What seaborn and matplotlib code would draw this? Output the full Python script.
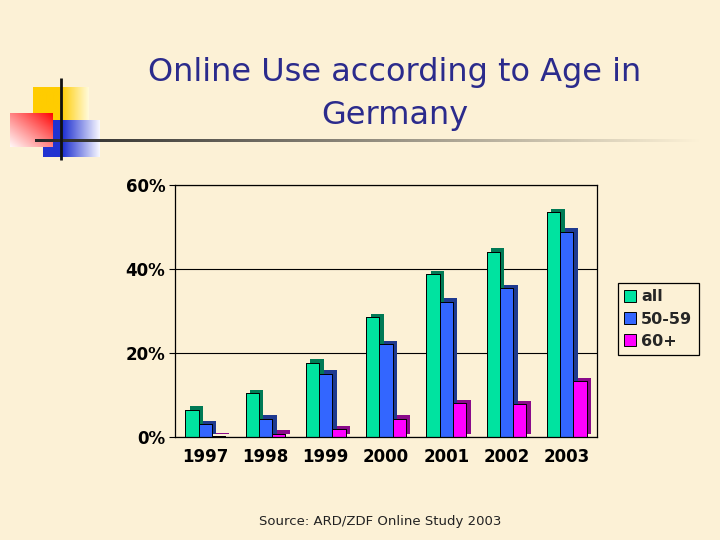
import numpy as np
import pandas as pd
import matplotlib
matplotlib.use("Agg")
import matplotlib.pyplot as plt
import matplotlib.patheffects as pe
from matplotlib.patches import Patch
from matplotlib.ticker import FuncFormatter
import seaborn as sns

# ---- data ----
years = ["1997", "1998", "1999", "2000", "2001", "2002", "2003"]
groups = ["all", "50-59", "60+"]
share_all = [6.5, 10.4, 17.7, 28.6, 38.8, 44.1, 53.5]
share_5059 = [3.0, 4.4, 15.1, 22.1, 32.2, 35.4, 48.9]
share_60 = [0.2, 0.8, 1.9, 4.4, 8.1, 7.8, 13.3]
y_ticks = [0, 20, 40, 60]

title_line1 = "Online Use according to Age in"
title_line2 = "Germany"
source_text = "Source: ARD/ZDF Online Study 2003"

front = {"all": "#00E3A0", "50-59": "#3366FF", "60+": "#FF00FF"}
side = {"all": "#007A55", "50-59": "#1F3A8F", "60+": "#8A0A8A"}
BG = "#FCF1D6"

df = pd.DataFrame({
    "year": years * 3,
    "group": [g for g in groups for _ in years],
    "value": [v / 100 for v in share_all + share_5059 + share_60],
})

sns.set_theme(style="white")
plt.rcParams["font.family"] = ["DejaVu Sans"]

fig = plt.figure(figsize=(7.2, 5.4), dpi=100)
fig.patch.set_facecolor(BG)

# ---- decoration (slide template) ----
deco = fig.add_axes([0, 0, 1, 1], zorder=-1)
deco.set_xlim(0, 720)
deco.set_ylim(540, 0)
deco.axis("off")
deco.patch.set_alpha(0)

def hgrad(c0, c1, start, n=64):
    t = np.linspace(0, 1, n)
    w = np.clip((t - start) / (1 - start), 0, 1)[None, :, None]
    c0 = np.array(c0)[None, None, :]
    c1 = np.array(c1)[None, None, :]
    return c0 * (1 - w) + c1 * w

yellow = hgrad((1.0, 0.80, 0.0), (1.0, 0.98, 0.85), 0.5)
deco.imshow(yellow, extent=(33, 89, 140, 87), aspect="auto", interpolation="bilinear", zorder=1)
blue = hgrad((0.13, 0.2, 0.82), (0.97, 0.97, 1.0), 0.35)
deco.imshow(blue, extent=(43, 100, 157, 120), aspect="auto", interpolation="bilinear", zorder=2)
xx, yy = np.meshgrid(np.linspace(0, 1, 64), np.linspace(0, 1, 64))
tw = np.clip(((1 - xx) + yy) / 2, 0, 1) ** 0.9
red = np.dstack([np.ones_like(tw), tw * 0.97, tw * 0.97])
deco.imshow(red, extent=(10, 53, 147, 113), origin="upper", aspect="auto", interpolation="bilinear", zorder=3)
bgc = np.array(matplotlib.colors.to_rgb(BG))
line = hgrad((0.15, 0.15, 0.15), tuple(bgc), 0.0, n=256)
deco.imshow(line, extent=(35, 700, 142.5, 139.5), aspect="auto", interpolation="bilinear", zorder=4)
deco.plot([61, 61], [78, 160], color="#111111", lw=2.0, zorder=5, solid_capstyle="butt")

# ---- titles ----
fig.text(395 / 720, 1 - 73 / 540, title_line1, ha="center", va="center",
         fontsize=23, color="#2B2B8C")
fig.text(395 / 720, 1 - 115 / 540, title_line2, ha="center", va="center",
         fontsize=23, color="#2B2B8C")
fig.text(380 / 720, 1 - 522 / 540, source_text, ha="center", va="center",
         fontsize=9.5, color="#222222")

# ---- chart ----
ax = fig.add_axes([175 / 720, 1 - 437 / 540, (597 - 175) / 720, (437 - 185) / 540])
ax.set_facecolor("none")
sns.barplot(data=df, x="year", y="value", hue="group", hue_order=groups,
            palette=front, width=0.66, edgecolor="black", linewidth=0.7,
            saturation=1, ax=ax, legend=False, errorbar=None)

rgb_to_group = {matplotlib.colors.to_hex(matplotlib.colors.to_rgb(c)): g for g, c in front.items()}
for p in ax.patches:
    g = rgb_to_group.get(matplotlib.colors.to_hex(p.get_facecolor()[:3]))
    if g is None:
        continue
    p.set_path_effects([
        pe.SimplePatchShadow(offset=(3.2, 2.4), shadow_rgbFace=side[g], alpha=1.0),
        pe.Stroke(linewidth=0.7, foreground="black"),
        pe.Normal(),
    ])

ax.set_ylim(0, 0.6)
ax.set_xlim(-0.5, len(years) - 0.5)
ax.set_yticks([v / 100 for v in y_ticks])
ax.yaxis.set_major_formatter(FuncFormatter(lambda v, _: f"{v * 100:.0f}%"))
ax.yaxis.grid(True, color="black", lw=0.8)
ax.set_axisbelow(True)
ax.set_xlabel("")
ax.set_ylabel("")
for s in ax.spines.values():
    s.set_visible(True)
    s.set_color("black")
    s.set_linewidth(0.9)
ax.tick_params(axis="y", which="major", left=True, length=4, width=0.8, color="black",
               pad=3, labelsize=12, labelcolor="black")
ax.tick_params(axis="x", length=0, pad=8, labelsize=12, labelcolor="black")
for lab in ax.get_xticklabels() + ax.get_yticklabels():
    lab.set_fontweight("bold")

handles = [Patch(facecolor=front[g], edgecolor="black", linewidth=0.7) for g in groups]
leg = ax.legend(handles, groups, loc="upper left",
                bbox_to_anchor=(618 / 720, 1 - 283 / 540), bbox_transform=fig.transFigure,
                frameon=True, fancybox=False, edgecolor="black", facecolor=BG, framealpha=1,
                prop={"weight": "bold", "size": 11.5}, handlelength=0.75, handleheight=0.75,
                handletextpad=0.3, labelspacing=0.45, borderpad=0.4, borderaxespad=0)
leg.get_frame().set_linewidth(0.9)

fig.savefig("out.png", dpi=100, facecolor=BG)
